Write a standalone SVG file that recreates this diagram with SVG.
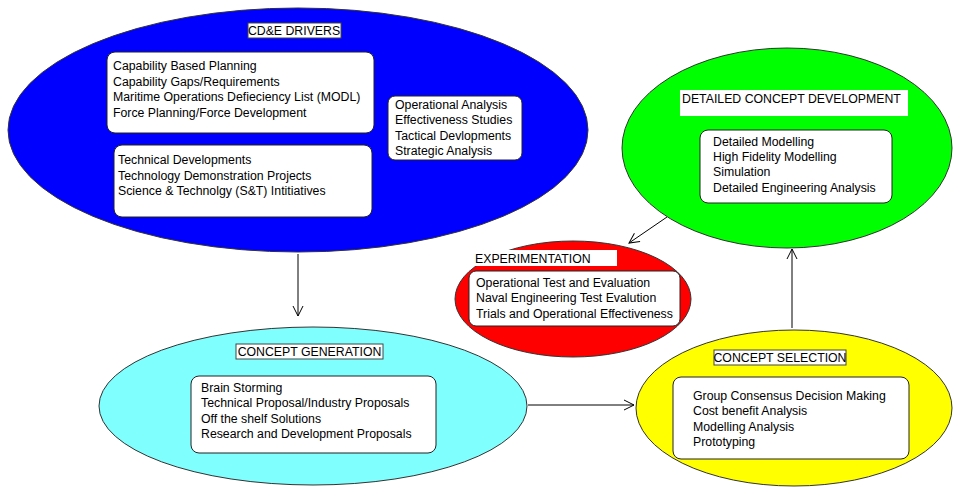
<svg xmlns="http://www.w3.org/2000/svg" width="953" height="487" viewBox="0 0 953 487">
<defs>
<style>
.ell{stroke:#333;stroke-width:1}
.box{fill:#fff;stroke:#222;stroke-width:1}
.lbl{fill:#fff;stroke:#444;stroke-width:1}
.lblnb{fill:#fff;stroke:none}
text{font-family:"Liberation Sans",Arial,sans-serif;font-size:12.3px;fill:#000}
.c{text-anchor:middle}
.conn{stroke:#000;stroke-width:1;fill:none}
</style>
<marker id="arr" viewBox="0 0 12 12" refX="11" refY="6" markerWidth="12" markerHeight="12" markerUnits="userSpaceOnUse" orient="auto">
<path d="M1,1 L11,6 L1,11" fill="none" stroke="#000" stroke-width="1"/>
</marker>
</defs>
<rect width="953" height="487" fill="#fff"/>
<g id="drivers">
<ellipse class="ell" cx="298" cy="130" rx="290" ry="122" fill="#0000ff"/>
<rect class="lbl" x="248" y="23" width="93" height="15"/>
<text class="c" x="294" y="35">CD&amp;E DRIVERS</text>
<rect class="box" x="107" y="52" width="267" height="81" rx="8"/>
<text x="113" y="70">Capability Based Planning</text>
<text x="113" y="85.5">Capability Gaps/Requirements</text>
<text x="113" y="101">Maritime Operations Defieciency List (MODL)</text>
<text x="113" y="116.5">Force Planning/Force Development</text>
<rect class="box" x="114" y="145" width="258" height="72" rx="8"/>
<text x="118" y="164">Technical Developments</text>
<text x="118" y="179.5">Technology Demonstration Projects</text>
<text x="118" y="195">Science &amp; Technolgy (S&amp;T) Intitiatives</text>
<rect class="box" x="388" y="96" width="134" height="64" rx="7"/>
<text x="395" y="108.5">Operational Analysis</text>
<text x="395" y="124">Effectiveness Studies</text>
<text x="395" y="139.5">Tactical Devlopments</text>
<text x="395" y="155">Strategic Analysis</text>
</g>
<g id="detailed">
<ellipse class="ell" cx="787" cy="148" rx="165" ry="100" fill="#00ff00"/>
<rect class="lblnb" x="680" y="90" width="228" height="26"/>
<text x="682" y="103">DETAILED CONCEPT DEVELOPMENT</text>
<rect class="box" x="700" y="130" width="192" height="73" rx="8"/>
<text x="713" y="145.5">Detailed Modelling</text>
<text x="713" y="161">High Fidelity Modelling</text>
<text x="713" y="176">Simulation</text>
<text x="713" y="191.5">Detailed Engineering Analysis</text>
</g>
<g id="experimentation">
<ellipse class="ell" cx="573" cy="299" rx="118" ry="58" fill="#ff0000"/>
<rect class="lblnb" x="472" y="250" width="145" height="16"/>
<text x="475" y="262.5">EXPERIMENTATION</text>
<rect class="box" x="469" y="271" width="211" height="55" rx="7"/>
<text x="476" y="286.5">Operational Test and Evaluation</text>
<text x="476" y="301.5">Naval Engineering Test Evalution</text>
<text x="476" y="317.5">Trials and Operational Effectiveness</text>
</g>
<g id="generation">
<ellipse class="ell" cx="313" cy="406" rx="214" ry="79" fill="#80ffff"/>
<rect class="lbl" x="236" y="344" width="147" height="15"/>
<text class="c" x="309.5" y="356">CONCEPT GENERATION</text>
<rect class="box" x="191" y="376" width="245" height="77" rx="8"/>
<text x="201" y="391.5">Brain Storming</text>
<text x="201" y="407">Technical Proposal/Industry Proposals</text>
<text x="201" y="422.5">Off the shelf Solutions</text>
<text x="201" y="438">Research and Development Proposals</text>
</g>
<g id="selection">
<ellipse class="ell" cx="794" cy="408" rx="158" ry="78" fill="#ffff00"/>
<rect class="lbl" x="714" y="350" width="132" height="15"/>
<text class="c" x="780" y="362">CONCEPT SELECTION</text>
<rect class="box" x="673" y="377" width="236" height="82" rx="8"/>
<text x="693" y="399.5">Group Consensus Decision Making</text>
<text x="693" y="414.5">Cost benefit Analysis</text>
<text x="693" y="430.5">Modelling Analysis</text>
<text x="693" y="445.5">Prototyping</text>
</g>
<g id="connectors">
<line class="conn" x1="298" y1="254" x2="298" y2="316" marker-end="url(#arr)"/>
<line class="conn" x1="528" y1="405" x2="634" y2="405" marker-end="url(#arr)"/>
<line class="conn" x1="792" y1="328" x2="792" y2="249" marker-end="url(#arr)"/>
<line class="conn" x1="667" y1="217" x2="629" y2="243" marker-end="url(#arr)"/>
</g>
</svg>
